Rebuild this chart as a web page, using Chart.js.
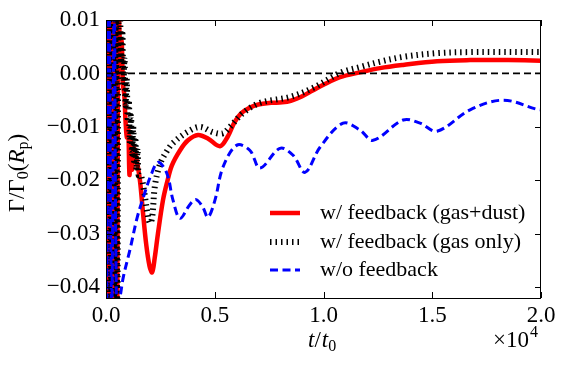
<!DOCTYPE html>
<html>
<head>
<meta charset="utf-8">
<script src="https://cdn.jsdelivr.net/npm/chart.js@4.4.0/dist/chart.umd.min.js"></script>
<style>
  html, body { margin: 0; padding: 0; background: #fff; }
  canvas { display: block; }
</style>
</head>
<body>
<canvas id="grafico" width="566" height="366"></canvas>
<script>
// valores (t em unidades de 1e4 t0)
const redT = [0, 0.004, 0.008, 0.012, 0.016, 0.020, 0.024, 0.028, 0.032, 0.036, 0.040, 0.044, 0.048, 0.052, 0.056,
  0.060, 0.066, 0.072, 0.078, 0.084, 0.090, 0.096, 0.102, 0.108, 0.114, 0.120, 0.128, 0.140, 0.156, 0.170, 0.185,
  0.200, 0.212, 0.224, 0.239, 0.262, 0.280, 0.303, 0.340, 0.377, 0.423, 0.470, 0.524, 0.560, 0.590, 0.620, 0.660,
  0.700, 0.760, 0.810, 0.850, 0.900, 0.950, 1.000, 1.076, 1.168, 1.260, 1.366, 1.522, 1.674, 1.850, 2.000];
const redG = [0.013, -0.045, 0.013, -0.045, 0.013, -0.045, 0.013, -0.045, 0.013, -0.045, 0.013, -0.045, 0.013, -0.045, 0.013,
  0.010, 0.004, 0.006, -0.002, -0.004, -0.009, -0.012, -0.010, -0.019, -0.012, -0.018, -0.014, -0.016, -0.020, -0.026, -0.032,
  -0.036, -0.0372, -0.0345, -0.0299, -0.0237, -0.0205, -0.0172, -0.0144, -0.0125, -0.0115, -0.0122, -0.0136, -0.0118, -0.0092, -0.0075, -0.0064,
  -0.0058, -0.0055, -0.0054, -0.0051, -0.0043, -0.0032, -0.0021, -0.0007, 0.0002, 0.0010, 0.0016, 0.0023, 0.0025, 0.0025, 0.0024];

const blackT = [0.010, 0.017, 0.024, 0.031, 0.038, 0.045, 0.052, 0.058,
  0.065, 0.070, 0.075, 0.080, 0.085, 0.090, 0.095, 0.100, 0.105, 0.110, 0.115, 0.120, 0.125, 0.130, 0.135, 0.140,
  0.145, 0.150, 0.160, 0.175, 0.190, 0.202, 0.212, 0.225, 0.248, 0.280, 0.308, 0.372, 0.432, 0.492, 0.538, 0.570,
  0.630, 0.708, 0.846, 0.952, 1.076, 1.168, 1.260, 1.366, 1.522, 1.674, 2.000];
const blackG = [-0.045, 0.013, -0.045, 0.013, -0.045, 0.013, -0.045, 0.013,
  0.010, 0.002, 0.008, -0.002, 0.003, -0.006, -0.001, -0.009, -0.005, -0.013, -0.008, -0.015, -0.010, -0.017, -0.012, -0.018,
  -0.014, -0.019, -0.019, -0.022, -0.026, -0.028, -0.027, -0.021, -0.0170, -0.0145, -0.0130, -0.0110, -0.0100, -0.0110, -0.0112, -0.0100,
  -0.0074, -0.0055, -0.0044, -0.0027, 0.0001, 0.0012, 0.0022, 0.0031, 0.0038, 0.0040, 0.0040];

const blueT = [0.003, 0.014, 0.026, 0.038, 0.049,
  0.064, 0.080, 0.110, 0.143, 0.170, 0.207, 0.240, 0.280, 0.308, 0.340, 0.386, 0.414, 0.445, 0.469, 0.501, 0.538,
  0.602, 0.662, 0.708, 0.800, 0.860, 0.915, 0.984, 1.090, 1.168, 1.228, 1.366, 1.444, 1.522, 1.674, 1.825, 1.982, 2.000];
const blueG = [-0.045, 0.013, -0.045, 0.013, -0.045,
  -0.042, -0.038, -0.033, -0.027, -0.0234, -0.019, -0.0166, -0.0187, -0.0237, -0.0271, -0.0245, -0.0236, -0.0250, -0.0269, -0.0237, -0.0175,
  -0.0134, -0.0144, -0.0177, -0.0140, -0.0153, -0.0185, -0.0138, -0.0093, -0.0106, -0.0125, -0.0087, -0.0093, -0.0108, -0.0068, -0.0050, -0.0067, -0.0068];

const zeroT = [0, 2];
const zeroG = [0, 0];

const seriesNames = ["w/ feedback (gas+dust)", "w/ feedback (gas only)", "w/o feedback"];
const xTickVals = [0, 0.5, 1.0, 1.5, 2.0];
const xTickLabels = ["0.0", "0.5", "1.0", "1.5", "2.0"];
const yTickVals = [-0.04, -0.03, -0.02, -0.01, 0.00, 0.01];
const yTickLabels = ["\u22120.04", "\u22120.03", "\u22120.02", "\u22120.01", "0.00", "0.01"];

const serif = "'Liberation Serif', 'DejaVu Serif', serif";

function pares(xs, ys) {
  return xs.map((x, i) => ({ x: x, y: ys[i] }));
}

// eixos com ticks para dentro, moldura, títulos e legenda
const decoracao = {
  id: "decoracao",
  afterDraw(chart) {
    const { ctx, chartArea: a, scales } = chart;
    const sx = scales.x, sy = scales.y;
    ctx.save();
    ctx.strokeStyle = "#000";
    ctx.lineWidth = 1;
    ctx.setLineDash([]);
    ctx.strokeRect(a.left + 0.5, a.top + 0.5, a.right - a.left - 1, a.bottom - a.top);
    ctx.beginPath();
    xTickVals.forEach(v => {
      const px = Math.round(sx.getPixelForValue(v)) + 0.5;
      ctx.moveTo(px, a.bottom); ctx.lineTo(px, a.bottom - 6);
      ctx.moveTo(px, a.top); ctx.lineTo(px, a.top + 6);
    });
    yTickVals.forEach(v => {
      const py = Math.round(sy.getPixelForValue(v)) + 0.5;
      ctx.moveTo(a.left, py); ctx.lineTo(a.left + 6, py);
      ctx.moveTo(a.right, py); ctx.lineTo(a.right - 6, py);
    });
    ctx.stroke();

    ctx.fillStyle = "#000";
    ctx.textBaseline = "alphabetic";
    // título do eixo x: t/t0
    let x0 = 308, yb = 347;
    ctx.font = "italic 23px " + serif;
    ctx.fillText("t", x0, yb); x0 += ctx.measureText("t").width;
    ctx.font = "23px " + serif;
    ctx.fillText("/", x0, yb); x0 += ctx.measureText("/").width + 1;
    ctx.font = "italic 23px " + serif;
    ctx.fillText("t", x0, yb); x0 += ctx.measureText("t").width;
    ctx.font = "16px " + serif;
    ctx.fillText("0", x0, yb + 4);

    // multiplicador x10^4
    x0 = 493;
    ctx.font = "23px " + serif;
    ctx.fillText("\u00d710", x0, yb); x0 += ctx.measureText("\u00d710").width;
    ctx.font = "16px " + serif;
    ctx.fillText("4", x0 + 1, yb - 10);

    // título do eixo y: Γ/Γ0(Rp)
    ctx.save();
    ctx.translate(24, 173);
    ctx.rotate(-Math.PI / 2);
    const partes = [
      ["Γ/Γ", "23px", 0], ["0", "16px", 4], ["(", "23px", 0],
      ["R", "italic 23px", 0], ["p", "16px", 4], [")", "23px", 0]
    ];
    let w = 0;
    partes.forEach(p => { ctx.font = p[1] + " " + serif; w += ctx.measureText(p[0]).width; });
    let cx = -w / 2;
    partes.forEach(p => {
      ctx.font = p[1] + " " + serif;
      ctx.fillText(p[0], cx, p[2]);
      cx += ctx.measureText(p[0]).width;
    });
    ctx.restore();

    // legenda
    const estilos = chart.data.datasets.slice(0, 3);
    const linhasY = [213, 242, 270];
    estilos.forEach((ds, i) => {
      ctx.beginPath();
      ctx.strokeStyle = ds.borderColor;
      ctx.lineWidth = ds.borderWidth;
      ctx.setLineDash(ds.borderDash || []);
      ctx.moveTo(270, linhasY[i]);
      ctx.lineTo(300, linhasY[i]);
      ctx.stroke();
      ctx.setLineDash([]);
      ctx.font = "22px " + serif;
      ctx.textBaseline = "middle";
      ctx.fillStyle = "#000";
      ctx.fillText(seriesNames[i], 320, linhasY[i]);
    });
    ctx.restore();
  }
};

const grafico = document.getElementById("grafico");
const ctx = grafico.getContext("2d");

const myChart = new Chart(ctx, {
  type: "line",
  data: {
    datasets: [
      {
        label: seriesNames[0],
        data: pares(redT, redG),
        borderColor: "#ff0000",
        borderWidth: 4.5,
        order: 4,
      },
      {
        label: seriesNames[1],
        data: pares(blackT, blackG),
        borderColor: "#000000",
        borderWidth: 6,
        borderDash: [1.5, 4],
        order: 3,
      },
      {
        label: seriesNames[2],
        data: pares(blueT, blueG),
        borderColor: "#0000ff",
        borderWidth: 3,
        borderDash: [8, 4.5],
        order: 2,
      },
      {
        label: "zero",
        data: pares(zeroT, zeroG),
        borderColor: "#000000",
        borderWidth: 1.8,
        borderDash: [7, 4],
        tension: 0,
        order: 1,
      },
    ],
  },
  options: {
    responsive: false,
    animation: false,
    devicePixelRatio: 1,
    layout: { padding: { top: 20, right: 25, left: 0, bottom: 0 } },
    elements: {
      point: { radius: 0 },
      line: { tension: 0.35, fill: false },
    },
    datasets: { line: { clip: 0 } },
    scales: {
      x: {
        type: "linear",
        min: 0,
        max: 2,
        grid: { display: false, drawTicks: false },
        border: { display: false },
        afterFit: s => { s.height = 68; },
        afterBuildTicks: s => { s.ticks = xTickVals.map(v => ({ value: v })); },
        ticks: {
          padding: 4,
          maxRotation: 0,
          autoSkip: false,
          color: "#000",
          font: { family: serif, size: 23 },
          callback: (v, i) => xTickLabels[i],
        },
      },
      y: {
        type: "linear",
        min: -0.042,
        max: 0.01,
        grid: { display: false, drawTicks: false },
        border: { display: false },
        afterFit: s => { s.width = 106; },
        afterBuildTicks: s => { s.ticks = yTickVals.map(v => ({ value: v })); },
        ticks: {
          padding: 6,
          autoSkip: false,
          color: "#000",
          font: { family: serif, size: 23 },
          callback: (v, i) => yTickLabels[i],
        },
      },
    },
    plugins: {
      legend: { display: false },
      tooltip: { enabled: false },
    },
  },
  plugins: [decoracao],
});
</script>
</body>
</html>
